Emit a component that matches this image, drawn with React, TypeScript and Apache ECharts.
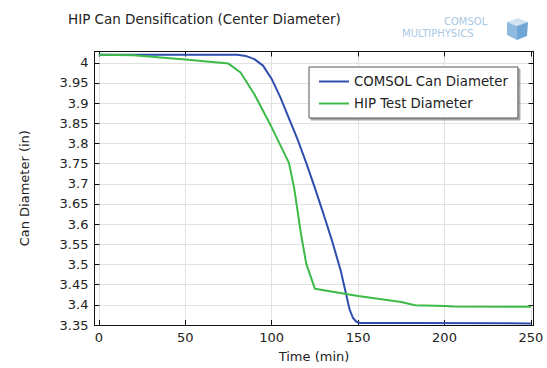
import React, { useEffect, useRef } from "react";
import * as echarts from "echarts";

const xTicks = [0, 50, 100, 150, 200, 250];
const yTicks = [3.35, 3.4, 3.45, 3.5, 3.55, 3.6, 3.65, 3.7, 3.75, 3.8, 3.85, 3.9, 3.95, 4.0];

const comsolTime = [0, 80, 85, 90, 95, 100, 105, 110, 115, 120, 125, 130, 135, 140, 143, 145, 147, 149, 151, 182, 250];
const comsolDiam = [4.02, 4.02, 4.017, 4.009, 3.993, 3.96, 3.915, 3.862, 3.81, 3.752, 3.69, 3.625, 3.558, 3.484, 3.428, 3.39, 3.368, 3.358, 3.355, 3.355, 3.354];

const hipTime = [0, 20, 50, 75, 82, 90, 100, 110, 113, 117, 120, 125, 150, 175, 183, 200, 205, 250];
const hipDiam = [4.02, 4.019, 4.008, 3.998, 3.976, 3.922, 3.84, 3.752, 3.69, 3.575, 3.502, 3.44, 3.422, 3.407, 3.399, 3.397, 3.396, 3.395];

const FONT = "DejaVu Sans";

export default function App() {
  const ref = useRef<HTMLDivElement>(null);
  useEffect(() => {
    if (!ref.current) return;
    const chart = echarts.init(ref.current, null, { renderer: "svg" });
    const fmtY = (v: number) => {
      const r = Math.round(v * 100) / 100;
      return String(r);
    };
    const lineIcon = "path://M0 0H30V2H0Z";
    chart.setOption({
      animation: false,
      backgroundColor: "#fff",
      textStyle: { fontFamily: FONT },
      title: {
        text: "HIP Can Densification (Center Diameter)",
        left: 63,
        top: 7,
        textStyle: { fontFamily: FONT, fontSize: 13.5, fontWeight: "normal", color: "#222" },
      },
      grid: { left: 94.5, right: 13.5, top: 51.5, bottom: 35.5, containLabel: false },
      legend: {
        orient: "vertical",
        left: 309,
        top: 67,
        padding: [7, 10, 7, 10],
        itemGap: 7,
        itemWidth: 30,
        itemHeight: 2,
        icon: lineIcon,
        backgroundColor: "#fff",
        borderColor: "#555",
        borderWidth: 1,
        shadowColor: "rgba(0,0,0,0.35)",
        shadowOffsetX: 2,
        shadowOffsetY: 2,
        shadowBlur: 0,
        textStyle: { fontFamily: FONT, fontSize: 13.3, color: "#222", lineHeight: 15 },
        data: [
          { name: "COMSOL Can Diameter", icon: lineIcon },
          { name: "HIP Test Diameter", icon: lineIcon },
        ],
      },
      xAxis: [
        {
          type: "value",
          min: -2.5,
          max: 251.5,
          name: "Time (min)",
          nameLocation: "middle",
          nameGap: 25,
          nameTextStyle: { fontFamily: FONT, fontSize: 13, color: "#222" },
          axisLine: { show: true, onZero: false, lineStyle: { color: "#111", width: 1 } },
          axisTick: { show: true, inside: true, length: 5, customValues: xTicks, lineStyle: { color: "#111" } },
          axisLabel: { customValues: xTicks, fontFamily: FONT, fontSize: 13, color: "#222", margin: 6 },
          splitLine: { show: true, lineStyle: { color: "#e2e2e2", width: 1 } },
        },
        {
          type: "value",
          position: "top",
          min: -2.5,
          max: 251.5,
          axisLine: { show: true, onZero: false, lineStyle: { color: "#111", width: 1 } },
          axisTick: { show: true, inside: true, length: 5, customValues: xTicks, lineStyle: { color: "#111" } },
          axisLabel: { show: false },
          splitLine: { show: false },
        },
      ],
      yAxis: [
        {
          type: "value",
          min: 3.35,
          max: 4.028,
          name: "Can Diameter (in)",
          nameLocation: "middle",
          nameGap: 64,
          nameTextStyle: { fontFamily: FONT, fontSize: 13, color: "#222" },
          axisLine: { show: true, onZero: false, lineStyle: { color: "#111", width: 1 } },
          axisTick: { show: true, inside: true, length: 5, customValues: yTicks, lineStyle: { color: "#111" } },
          axisLabel: { customValues: yTicks, formatter: fmtY, fontFamily: FONT, fontSize: 13, color: "#222", margin: 6 },
          splitLine: { show: true, lineStyle: { color: "#e2e2e2", width: 1 } },
        },
        {
          type: "value",
          position: "right",
          min: 3.35,
          max: 4.028,
          axisLine: { show: true, onZero: false, lineStyle: { color: "#111", width: 1 } },
          axisTick: { show: true, inside: true, length: 5, customValues: yTicks, lineStyle: { color: "#111" } },
          axisLabel: { show: false },
          splitLine: { show: false },
        },
      ],
      series: [
        {
          name: "COMSOL Can Diameter",
          type: "line",
          xAxisIndex: 0,
          yAxisIndex: 0,
          showSymbol: false,
          symbol: "none",
          smooth: false,
          color: "#2f4fae",
          lineStyle: { color: "#2f4fae", width: 2 },
          data: comsolTime.map((t, i) => [t, comsolDiam[i]]),
        },
        {
          name: "HIP Test Diameter",
          type: "line",
          xAxisIndex: 0,
          yAxisIndex: 0,
          showSymbol: false,
          symbol: "none",
          color: "#3dba48",
          lineStyle: { color: "#3dba48", width: 2 },
          data: hipTime.map((t, i) => [t, hipDiam[i]]),
        },
      ],
      graphic: [
        {
          type: "text",
          left: 444,
          top: 16,
          style: { text: "COMSOL", fontFamily: FONT, fontSize: 10, fill: "#a8c8e4", letterSpacing: 1.5 },
        },
        {
          type: "text",
          left: 402,
          top: 28,
          style: { text: "MULTIPHYSICS", fontFamily: FONT, fontSize: 10, fill: "#a8c8e4", letterSpacing: 0.3 },
        },
        {
          type: "polygon",
          shape: { points: [[507, 22], [518, 18], [528, 22], [517, 26]] },
          style: { fill: "#cfe3f3" },
        },
        {
          type: "polygon",
          shape: { points: [[507, 22], [517, 26], [517, 40], [507, 35]] },
          style: { fill: "#8fbbe0" },
        },
        {
          type: "polygon",
          shape: { points: [[517, 26], [528, 22], [527, 36], [517, 40]] },
          style: { fill: "#6fa6d6" },
        },
      ],
    });
    return () => chart.dispose();
  }, []);
  return <div ref={ref} style={{ position: "absolute", left: 0, top: 0, width: 547, height: 368 }} />;
}
